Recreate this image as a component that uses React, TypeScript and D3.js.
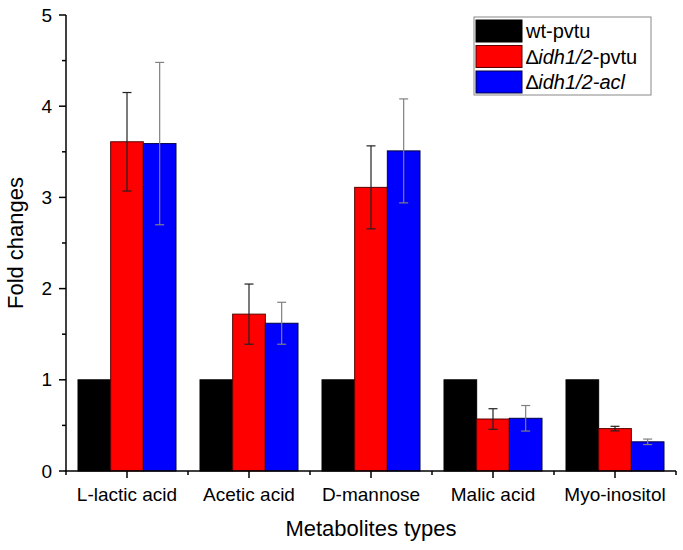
import React from 'react';
import * as d3 from 'd3';

// metabolite categories and series
const categories = ['L-lactic acid', 'Acetic acid', 'D-mannose', 'Malic acid', 'Myo-inositol'];
const seriesKeys = ['wt', 'idhPvtu', 'idhAcl'];
const wtValues = [1, 1, 1, 1, 1];
const idhPvtuValues = [3.61, 1.72, 3.11, 0.57, 0.465];
const idhPvtuErrors = [0.54, 0.33, 0.455, 0.113, 0.025];
const idhAclValues = [3.59, 1.62, 3.51, 0.578, 0.32];
const idhAclErrors = [0.89, 0.23, 0.57, 0.14, 0.03];
const yTicks = [0, 1, 2, 3, 4, 5];

const colors: Record<string, string> = { wt: '#000000', idhPvtu: '#ff0000', idhAcl: '#0000ff' };
const strokes: Record<string, string> = { wt: '#000000', idhPvtu: '#5a0000', idhAcl: '#000040' };
const errColors: Record<string, string> = { wt: '#000', idhPvtu: '#222', idhAcl: '#808080' };

const W = 683;
const H = 550;
const margin = { left: 66, right: 7, top: 15, bottom: 79 };
const FONT = 'Arial, "Liberation Sans", sans-serif';

export default function App() {
  const x0 = d3
    .scaleBand<string>()
    .domain(categories)
    .range([margin.left, W - margin.right])
    .padding(0);
  const bw = x0.bandwidth();
  const x1 = d3
    .scaleBand<string>()
    .domain(seriesKeys)
    .range([12, bw - 12])
    .padding(0);
  const y = d3.scaleLinear().domain([0, 5]).range([H - margin.bottom, margin.top]);

  const values: Record<string, number[]> = { wt: wtValues, idhPvtu: idhPvtuValues, idhAcl: idhAclValues };
  const errors: Record<string, number[] | null> = { wt: null, idhPvtu: idhPvtuErrors, idhAcl: idhAclErrors };

  const minorY = d3.range(0.5, 5, 1);
  const y0 = y(0);

  const legendItems = [
    { key: 'wt', label: <tspan>wt-pvtu</tspan> },
    {
      key: 'idhPvtu',
      label: (
        <>
          <tspan>∆</tspan>
          <tspan fontStyle="italic">idh1/2</tspan>
          <tspan>-pvtu</tspan>
        </>
      ),
    },
    {
      key: 'idhAcl',
      label: (
        <>
          <tspan>∆</tspan>
          <tspan fontStyle="italic">idh1/2-acl</tspan>
        </>
      ),
    },
  ];

  return (
    <svg
      width={W}
      height={H}
      style={{ position: 'absolute', left: 0, top: 0, background: '#fff' }}
      fontFamily={FONT}
    >
      <rect width={W} height={H} fill="#fff" />

      {/* bars */}
      {categories.map((c, i) => (
        <g key={c} transform={`translate(${x0(c)},0)`}>
          {seriesKeys.map((k) => {
            const v = values[k][i];
            const bx = x1(k)!;
            return (
              <rect
                key={k}
                x={bx}
                y={y(v)}
                width={x1.bandwidth()}
                height={y0 - y(v)}
                fill={colors[k]}
                stroke={strokes[k]}
                strokeWidth={1}
              />
            );
          })}
          {seriesKeys.map((k) => {
            const e = errors[k];
            if (!e) return null;
            const v = values[k][i];
            const cx = x1(k)! + x1.bandwidth() / 2;
            return (
              <g key={k} stroke={errColors[k]} strokeWidth={1.2}>
                <line x1={cx} x2={cx} y1={y(v + e[i])} y2={y(v - e[i])} />
                <line x1={cx - 4.5} x2={cx + 4.5} y1={y(v + e[i])} y2={y(v + e[i])} />
                <line x1={cx - 4.5} x2={cx + 4.5} y1={y(v - e[i])} y2={y(v - e[i])} />
              </g>
            );
          })}
        </g>
      ))}

      {/* y axis */}
      <g stroke="#000" strokeWidth={1.5}>
        <line x1={margin.left} x2={margin.left} y1={margin.top} y2={y0} />
        {yTicks.map((t) => (
          <line key={t} x1={margin.left - 7} x2={margin.left} y1={y(t)} y2={y(t)} />
        ))}
        {minorY.map((t) => (
          <line key={t} x1={margin.left - 4} x2={margin.left} y1={y(t)} y2={y(t)} />
        ))}
      </g>
      {yTicks.map((t) => (
        <text key={t} x={margin.left - 14} y={y(t)} dy="0.35em" textAnchor="end" fontSize={19}>
          {t}
        </text>
      ))}

      {/* x axis */}
      <g stroke="#000" strokeWidth={1.5}>
        <line x1={margin.left - 1} x2={W - margin.right} y1={y0} y2={y0} />
        {categories.map((c) => (
          <line key={c} x1={x0(c)! + bw / 2} x2={x0(c)! + bw / 2} y1={y0} y2={y0 + 7} />
        ))}
        {categories.concat(['end']).map((c, i) => {
          const xx = margin.left + i * bw;
          return <line key={c} x1={xx} x2={xx} y1={y0} y2={y0 + 4} />;
        })}
      </g>
      {categories.map((c) => (
        <text key={c} x={x0(c)! + bw / 2} y={y0 + 30} textAnchor="middle" fontSize={19}>
          {c}
        </text>
      ))}

      {/* axis titles */}
      <text x={(margin.left + W - margin.right) / 2} y={536} textAnchor="middle" fontSize={22}>
        Metabolites types
      </text>
      <text transform={`translate(23,${(margin.top + y0) / 2}) rotate(-90)`} textAnchor="middle" fontSize={22}>
        Fold changes
      </text>

      {/* legend */}
      <g transform="translate(474,17)">
        <rect x={0} y={0} width={177} height={78} fill="#fff" stroke="#888" strokeWidth={1} />
        {legendItems.map((it, i) => (
          <g key={it.key} transform={`translate(2,${3 + i * 25.5})`}>
            <rect x={0} y={0} width={46} height={22} fill={colors[it.key]} stroke={strokes[it.key]} strokeWidth={1} />
            <text x={50} y={11} dy="0.35em" fontSize={20}>
              {it.label}
            </text>
          </g>
        ))}
      </g>
    </svg>
  );
}
